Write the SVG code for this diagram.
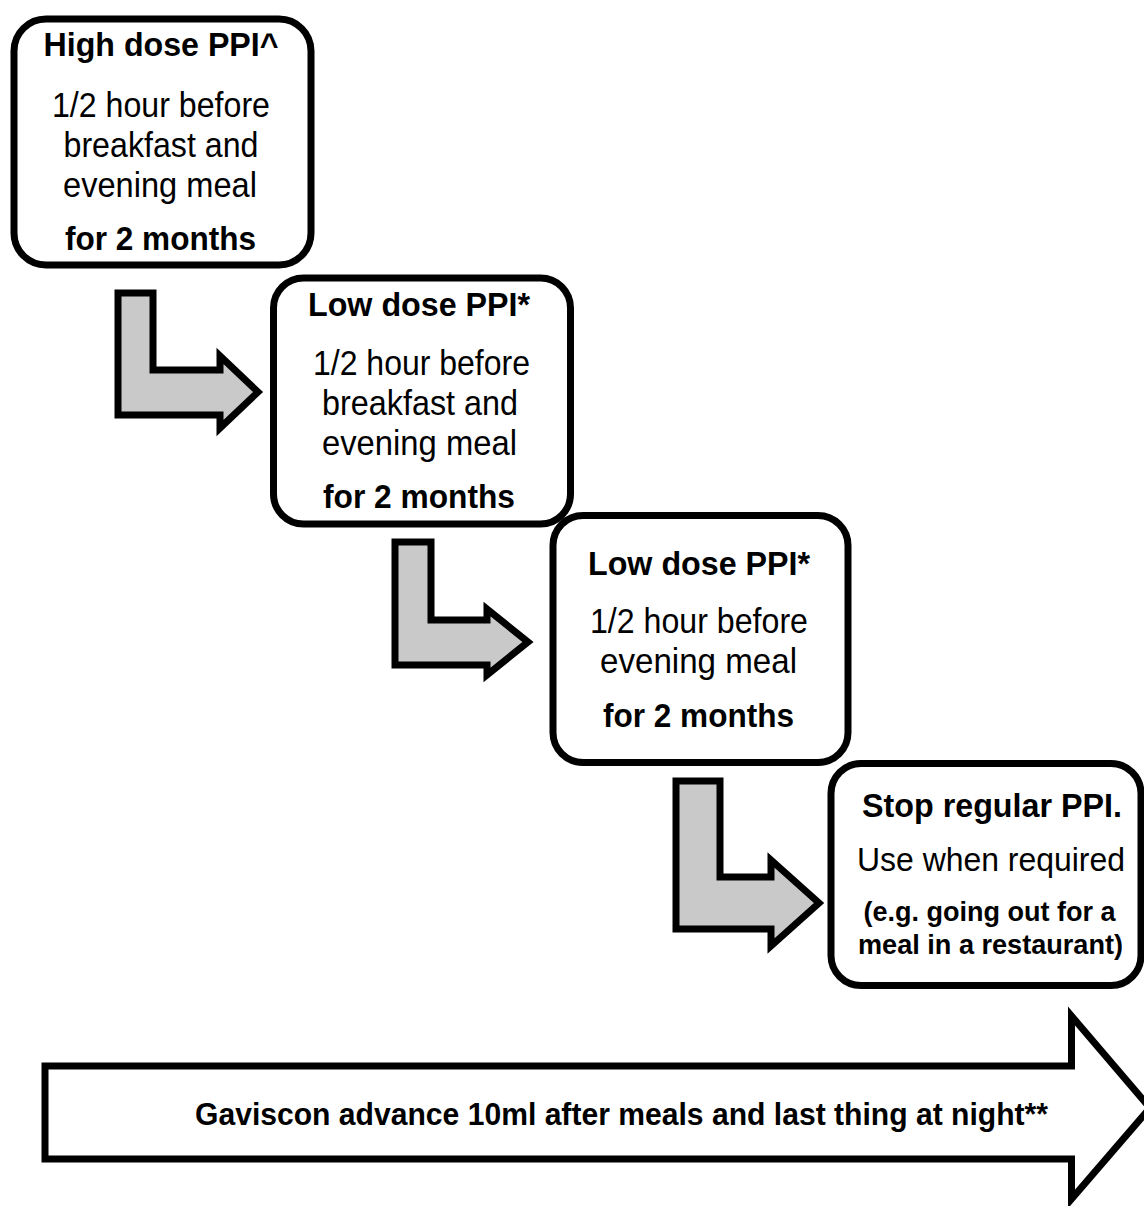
<svg xmlns="http://www.w3.org/2000/svg" width="1144" height="1206" viewBox="0 0 1144 1206">
<style>
.box{fill:#ffffff;stroke:#000000;stroke-width:7}
.step{fill:#c9c9c9;stroke:#000000;stroke-width:7;stroke-linejoin:miter}
.big{fill:#ffffff;stroke:#000000;stroke-width:7;stroke-linejoin:miter}
text{font-family:"Liberation Sans",Arial,sans-serif;fill:#000000;text-anchor:middle}
.h{font-weight:bold;font-size:33px}
.r{font-size:35px}
.b{font-weight:bold;font-size:34px}
.s{font-weight:bold;font-size:27px}
</style>
<rect width="1144" height="1206" fill="#ffffff"/>
<g id="connectors">
<path class="step" d="M118,293 L153,293 L153,370 L220,370 L220,356 L258,392 L220,428 L220,415 L118,415 Z"/>
<path class="step" d="M395,542 L431,542 L431,620 L487,620 L487,609 L528,642 L487,675 L487,665 L395,665 Z"/>
<path class="step" d="M676,781 L720,781 L720,877 L771,877 L771,860 L819,903 L771,946 L771,929 L676,929 Z"/>
</g>
<g id="node1">
<rect class="box" x="14" y="19" width="297" height="246" rx="32" ry="32"/>
<text class="h" x="161" y="56" textLength="235" lengthAdjust="spacingAndGlyphs">High dose PPI^</text>
<text class="r" x="161" y="117" textLength="218" lengthAdjust="spacingAndGlyphs">1/2 hour before</text>
<text class="r" x="161" y="157" textLength="195" lengthAdjust="spacingAndGlyphs">breakfast and</text>
<text class="r" x="160" y="197" textLength="194" lengthAdjust="spacingAndGlyphs">evening meal</text>
<text class="b" x="160.5" y="250" textLength="191" lengthAdjust="spacingAndGlyphs">for 2 months</text>
</g>
<g id="node2">
<rect class="box" x="273.5" y="278" width="297" height="246" rx="30" ry="30"/>
<text class="h" x="419" y="316" textLength="222" lengthAdjust="spacingAndGlyphs">Low dose PPI*</text>
<text class="r" x="421.5" y="375" textLength="217" lengthAdjust="spacingAndGlyphs">1/2 hour before</text>
<text class="r" x="420" y="415" textLength="196" lengthAdjust="spacingAndGlyphs">breakfast and</text>
<text class="r" x="419.5" y="455" textLength="195" lengthAdjust="spacingAndGlyphs">evening meal</text>
<text class="b" x="419" y="508" textLength="192" lengthAdjust="spacingAndGlyphs">for 2 months</text>
</g>
<g id="node3">
<rect class="box" x="553" y="515.5" width="295" height="247" rx="30" ry="30"/>
<text class="h" x="699" y="575" textLength="222" lengthAdjust="spacingAndGlyphs">Low dose PPI*</text>
<text class="r" x="699" y="633" textLength="218" lengthAdjust="spacingAndGlyphs">1/2 hour before</text>
<text class="r" x="698.5" y="673" textLength="197" lengthAdjust="spacingAndGlyphs">evening meal</text>
<text class="b" x="698.5" y="727" textLength="191" lengthAdjust="spacingAndGlyphs">for 2 months</text>
</g>
<g id="node4">
<rect class="box" x="831" y="763.5" width="310" height="222" rx="30" ry="30"/>
<text class="h" x="992" y="817" textLength="260" lengthAdjust="spacingAndGlyphs">Stop regular PPI.</text>
<text x="991" y="871" font-size="34" textLength="268" lengthAdjust="spacingAndGlyphs">Use when required</text>
<text class="s" x="989.5" y="921" textLength="252" lengthAdjust="spacingAndGlyphs">(e.g. going out for a</text>
<text class="s" x="990.5" y="954" textLength="265" lengthAdjust="spacingAndGlyphs">meal in a restaurant)</text>
</g>
<g id="node5">
<path class="big" d="M45,1066 L1071.5,1066 L1071.5,1016 L1150,1108 L1071.5,1199 L1071.5,1159 L45,1159 Z"/>
<text x="621.5" y="1125" font-weight="bold" font-size="32" textLength="853" lengthAdjust="spacingAndGlyphs">Gaviscon advance 10ml after meals and last thing at night**</text>
</g>
</svg>
